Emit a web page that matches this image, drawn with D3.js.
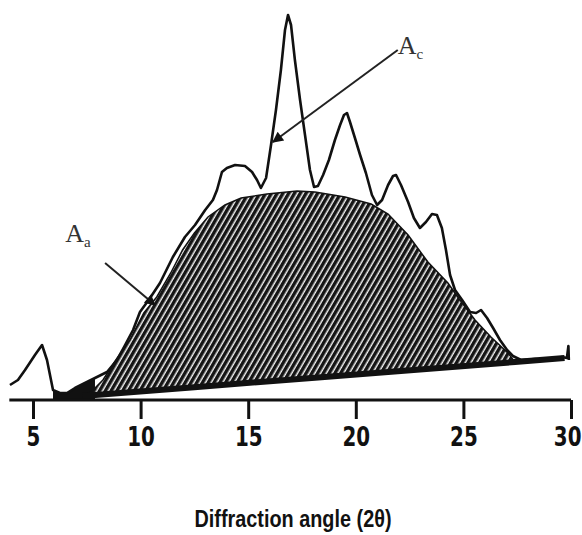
<!DOCTYPE html>
<html>
<head>
<meta charset="utf-8">
<script src="https://cdn.jsdelivr.net/npm/d3@7"></script>
<style>
  body { margin: 0; background: #fff; }
</style>
</head>
<body>
<svg id="chart"></svg>
<script>
// Data (2θ in degrees, intensity in arbitrary units)
const traceAngle = [3.93, 4.3, 4.63, 5.09, 5.42, 5.65, 5.93, 6.25, 6.58, 6.95, 7.32, 7.88, 8.44, 8.9, 9.28, 9.65,
  9.97, 10.44, 10.9, 11.5, 12.06, 12.53, 13.0, 13.36, 13.55, 13.78, 14.01, 14.39, 14.85, 15.18, 15.41, 15.59,
  15.83, 16.06, 16.29, 16.52, 16.71, 16.85, 16.99, 17.17, 17.41, 17.64, 17.87, 18.06, 18.24, 18.48, 18.75,
  19.03, 19.27, 19.45, 19.59, 19.73, 19.96, 20.2, 20.47, 20.75, 20.99, 21.22, 21.5, 21.73, 21.87, 22.1, 22.43,
  22.7, 22.98, 23.26, 23.54, 23.77, 24.0, 24.19, 24.38, 24.61, 24.94, 25.31, 25.59, 25.82, 26.1, 26.38, 26.7,
  27.03, 27.3, 27.68, 28.33, 29.02, 29.58, 29.81, 29.88, 29.9];
const traceCounts = [3.75, 5, 7.5, 11.25, 13.75, 10, 2.5, 1.75, 1.75, 3, 4, 5.5, 7, 10, 13.75, 17.5,
  22, 25.5, 29.25, 35.75, 40.75, 43.75, 47.5, 50, 52.5, 57, 58, 58.75, 58.5, 57, 55, 53,
  55.5, 63.75, 72.5, 82.5, 92.5, 96.25, 93.75, 85, 75, 66.25, 57.5, 53.25, 53.5, 56.25, 60,
  65, 68.75, 71.25, 71.75, 69.5, 65.5, 61.25, 56.75, 51.25, 48.75, 50, 53.75, 56, 56.25, 53.75, 49.5,
  45.5, 43, 44.5, 46.5, 46.25, 43, 37.5, 31.25, 27.5, 25, 22, 21.75, 22.5, 20.5, 18, 15,
  12.5, 11, 10, 10.25, 10, 10.75, 10.5, 13.5, 10];

// amorphous halo (A_a) top edge
const haloAngle = [7.7, 8.25, 8.85, 9.5, 10.15, 10.75, 11.4, 11.95, 12.5, 13.13, 13.92, 14.67, 15.87, 17.27,
  18.1, 19.5, 20.71, 21.5, 22.43, 23.35, 24.28, 24.84, 25.54, 26.28, 27.07, 27.4];
const haloCounts = [2, 5, 10, 15, 21.75, 25.75, 31.75, 37.5, 41.75, 45.75, 48.75, 50.5, 51.5, 52.25,
  52, 50.75, 49, 46.5, 41.25, 34.5, 29.25, 25, 20, 15.75, 11.75, 9.5];

// background line under the halo
const baseAngle = [7.3, 12.5, 18.4, 21.5, 27.4, 29.7];
const baseCounts = [1, 3.2, 5.7, 7, 9.5, 10.5];

const tickValues = [5, 10, 15, 20, 25, 30];

const width = 582, height = 535;
const svg = d3.select("#chart").attr("width", width).attr("height", height);

const x = d3.scaleLinear().domain([5, 30]).range([33, 571]);
const y = d3.scaleLinear().domain([0, 100]).range([400, 0]);

const trace = traceAngle.map((a, i) => [a, traceCounts[i]]);
const halo = haloAngle.map((a, i) => [a, haloCounts[i]]);
const base = baseAngle.map((a, i) => [a, baseCounts[i]]);

const line = d3.line().x(d => x(d[0])).y(d => y(d[1]));

// hatch pattern
const defs = svg.append("defs");
const pat = defs.append("pattern")
    .attr("id", "hatch")
    .attr("patternUnits", "userSpaceOnUse")
    .attr("width", 5).attr("height", 5)
    .attr("patternTransform", "rotate(30)");
pat.append("rect").attr("width", 5).attr("height", 5).attr("fill", "#f4f4f4");
pat.append("rect").attr("width", 3.5).attr("height", 5).attr("fill", "#151515");

defs.append("marker")
    .attr("id", "arrow")
    .attr("viewBox", "0 0 10 10")
    .attr("refX", 9).attr("refY", 5)
    .attr("markerWidth", 16).attr("markerHeight", 11)
    .attr("markerUnits", "userSpaceOnUse")
    .attr("orient", "auto")
    .append("path").attr("d", "M0,0 L10,5 L0,10 Z").attr("fill", "#111");

// black fill under the low part of the trace on the left
const lowPart = trace.filter(d => d[0] >= 5.9 && d[0] <= 8.2);
svg.append("path")
    .datum(lowPart)
    .attr("fill", "#111")
    .attr("d", d3.area().x(d => x(d[0])).y0(y(0)).y1(d => y(d[1])));

// hatched halo between halo edge and baseline
svg.append("path")
    .datum(halo.concat(base.slice().reverse().filter(d => d[0] <= 27.4 && d[0] >= 7.3)))
    .attr("fill", "url(#hatch)")
    .attr("stroke", "#111")
    .attr("stroke-width", 1.5)
    .attr("d", d => line(d) + "Z");

// baseline
svg.append("path")
    .datum(base)
    .attr("fill", "none")
    .attr("stroke", "#111")
    .attr("stroke-width", 6)
    .attr("d", line);

// trace
svg.append("path")
    .datum(trace)
    .attr("fill", "none")
    .attr("stroke", "#111")
    .attr("stroke-width", 2.6)
    .attr("stroke-linejoin", "round")
    .attr("d", line);

// x axis
svg.append("line")
    .attr("x1", x(3.9)).attr("x2", x(30))
    .attr("y1", y(0)).attr("y2", y(0))
    .attr("stroke", "#111").attr("stroke-width", 3);

const axis = svg.append("g")
    .attr("transform", `translate(0,${y(0)})`)
    .call(d3.axisBottom(x).tickValues(tickValues).tickSize(19).tickSizeOuter(0).tickPadding(9));
axis.select(".domain").remove();
axis.selectAll(".tick line").attr("stroke", "#111").attr("stroke-width", 3);
axis.selectAll(".tick text")
    .attr("fill", "#111")
    .attr("font-family", "'Liberation Sans Narrow', 'DejaVu Sans Condensed', 'Liberation Sans', sans-serif")
    .attr("font-weight", "bold")
    .attr("font-size", 26)
    .attr("transform", "scale(0.85,1)");
// keep the last label inside the picture
axis.selectAll(".tick text").filter(d => d === 30)
    .attr("text-anchor", "end")
    .attr("x", 10 / 0.85);

// axis title
svg.append("text")
    .attr("x", 293).attr("y", 527)
    .attr("text-anchor", "middle")
    .attr("font-family", "'Liberation Sans', Arial, sans-serif")
    .attr("font-weight", "bold")
    .attr("font-size", 23)
    .attr("textLength", 197)
    .attr("lengthAdjust", "spacingAndGlyphs")
    .attr("fill", "#111")
    .text("Diffraction angle (2θ)");

// annotations
const notes = [
  { sub: "c", lx: 21.95, ly: 86.5, from: [21.95, 87.5], to: [16.15, 64.5] },
  { sub: "a", lx: 6.5, ly: 39.5, from: [8.35, 34.25], to: [10.67, 23.75] }
];
notes.forEach(n => {
  svg.append("line")
    .attr("x1", x(n.from[0])).attr("y1", y(n.from[1]))
    .attr("x2", x(n.to[0])).attr("y2", y(n.to[1]))
    .attr("stroke", "#222").attr("stroke-width", 2)
    .attr("marker-end", "url(#arrow)");
  const t = svg.append("text")
    .attr("x", x(n.lx)).attr("y", y(n.ly))
    .attr("font-family", "'Liberation Serif', 'Times New Roman', serif")
    .attr("font-size", 26)
    .attr("fill", "#333");
  t.append("tspan").text("A");
  t.append("tspan").attr("font-size", 15).attr("dy", 5).text(n.sub);
});
</script>
</body>
</html>
